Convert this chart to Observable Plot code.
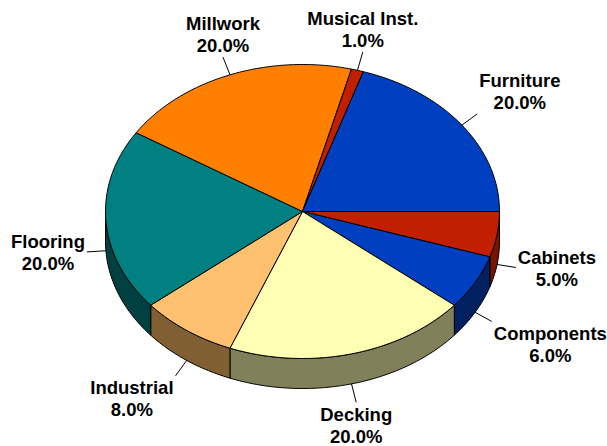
<!DOCTYPE html>
<html><head><meta charset="utf-8">
<script src="https://cdn.jsdelivr.net/npm/d3@7"></script>
<script src="https://cdn.jsdelivr.net/npm/@observablehq/plot@0.6"></script>
<style>html,body{margin:0;padding:0;background:#fff}svg{display:block}</style>
</head><body><div id="chart"></div>
<script>
// ---- data (clockwise from 3 o'clock) ----
const categories = ["Cabinets","Components","Decking","Industrial","Flooring","Millwork","Musical Inst.","Furniture"];
const values = [5, 6, 20, 8, 20, 20, 1, 20];
const topColors  = ["#C02000","#0040C0","#FFFFB3","#FFC070","#008080","#FF8000","#C02000","#0040C0"];
const sideColors = ["#7A1400","#002060","#80805A","#806033","#004040","#804000","#7A1400","#002060"];

// ---- layout ----
const W = 607, H = 446;
const CX = 302, CY = 211, RX = 197, RY = 147, DEPTH = 30;
const D = DEPTH / RY;           // side depth in y units
const LEAD = 19, GAP = 2;
const FS = 18.5, LH = 1.19, FONT = "Liberation Sans, Arial, sans-serif";

const total = d3.sum(values);
const arcs = d3.pie().sort(null).value(d => d)(values);
const step = Math.PI / 180;
const arcPts = (a0, a1) => {
  const n = Math.max(2, Math.ceil((a1 - a0) / step));
  return d3.range(n + 1).map(i => a0 + (a1 - a0) * i / n);
};

const tops = [], sides = [];
arcs.forEach((a, i) => {
  const p = [[0, 0], ...arcPts(a.startAngle, a.endAngle).map(t => [Math.cos(t), Math.sin(t)]), [0, 0]];
  p.forEach(([x, y]) => tops.push({id: i, x, y, fill: topColors[i]}));
  const s = Math.max(a.startAngle, 0), e = Math.min(a.endAngle, Math.PI);
  if (e > s) {
    const ts = arcPts(s, e);
    const q = [...ts.map(t => [Math.cos(t), Math.sin(t)]),
               ...ts.slice().reverse().map(t => [Math.cos(t), Math.sin(t) + D])];
    q.push(q[0]);
    q.forEach(([x, y]) => sides.push({id: i, x, y, fill: sideColors[i]}));
  }
});

const ctx = document.createElement("canvas").getContext("2d");
ctx.font = `bold ${FS}px ${FONT}`;
const labels = arcs.map((a, i) => {
  const m = (a.startAngle + a.endAngle) / 2, c = Math.cos(m), s = Math.sin(m);
  const x1 = c, y1 = s + (s > 0 ? D : 0);
  const x2 = x1 + LEAD * c / RX, y2 = y1 + LEAD * s / RY;
  const text = `${categories[i]}\n${(values[i] / total * 100).toFixed(1)}%`;
  const w = Math.max(...text.split("\n").map(t => ctx.measureText(t).width));
  const h = c > 0.45 ? 1 : c < -0.45 ? -1 : 0;
  const v = s > 0.3 ? "top" : s < -0.3 ? "bottom" : "middle";
  return {x1, y1, x2, y2, text, tx: x2 + h * (w / 2 + GAP) / RX, ty: y2, v};
});

const chart = Plot.plot({
  width: W, height: H,
  x: {domain: [-1, 1], range: [CX - RX, CX + RX], axis: null},
  y: {domain: [-1, 1], range: [CY - RY, CY + RY], axis: null},
  color: {type: "identity"},
  style: {background: "white", overflow: "visible"},
  marks: [
    Plot.line(sides, {x: "x", y: "y", z: "id", fill: "fill", stroke: "black", strokeWidth: 1, strokeLinejoin: "round", curve: "linear"}),
    Plot.line(tops, {x: "x", y: "y", z: "id", fill: "fill", stroke: "black", strokeWidth: 1, strokeLinejoin: "round", curve: "linear"}),
    Plot.link(labels, {x1: "x1", y1: "y1", x2: "x2", y2: "y2", stroke: "black", strokeWidth: 1}),
    ...["top", "middle", "bottom"].map(v => Plot.text(labels.filter(d => d.v === v), {
      x: "tx", y: "ty", text: "text", lineAnchor: v, textAnchor: "middle",
      dy: v === "top" ? 3 : v === "bottom" ? -5 : 0,
      fontSize: FS, fontWeight: "bold", fontFamily: FONT, fill: "black", lineHeight: LH
    }))
  ]
});
document.getElementById("chart").append(chart);
</script>
</body></html>
